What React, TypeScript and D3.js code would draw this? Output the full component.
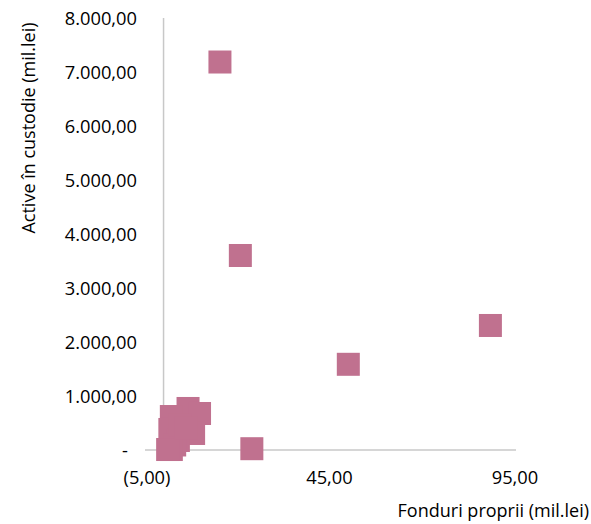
import React from "react";
import * as d3 from "d3";

// Own funds (x) vs assets in custody (y), million lei
const fonduriProprii = [15.2, 20.7, 88.1, 49.8, 23.8, 6.6, 9.7, 2.1, 1.7, 8.1, 4.0, 3.0, 2.1, 1.1, 4.4, 6.0];
const activeCustodie = [7185, 3602, 2306, 1587, 24, 769, 676, 620, 380, 306, 176, 93, 9, 9, 463, 407];

const xTicks = [-5, 45, 95];
const yTicks = [0, 1000, 2000, 3000, 4000, 5000, 6000, 7000, 8000];

const W = 591;
const H = 524;
const FONT = "'Open Sans', sans-serif";
const AXIS = "#C8C8C8";
const MARK = "#C0718F";
const MARK_SIZE = 23;

const fmtNum = (v: number) => {
  const s = d3.format(",.2f")(Math.abs(v));
  // Romanian style: dot for thousands, comma for decimals
  const ro = s.replace(/,/g, "#").replace(".", ",").replace(/#/g, ".");
  return v < 0 ? `(${ro})` : ro;
};

export default function App() {
  const x = d3.scaleLinear().domain([-5, 95]).range([145, 516]);
  const y = d3.scaleLinear().domain([0, 8000]).range([450, 18]);

  const points = fonduriProprii.map((v, i) => ({ fx: v, ay: activeCustodie[i] }));

  return (
    <svg
      width={W}
      height={H}
      style={{ position: "absolute", left: 0, top: 0, background: "#fff" }}
      fontFamily={FONT}
    >
      {/* axes */}
      <line x1={x(0)} x2={x(0)} y1={y(8000)} y2={y(0)} stroke={AXIS} strokeWidth={1.5} />
      <line x1={x(-5)} x2={x(95)} y1={y(0)} y2={y(0)} stroke={AXIS} strokeWidth={1.5} />

      {/* y tick labels */}
      {yTicks.map((t) => (
        <text
          key={t}
          x={t === 0 ? 128 : 137}
          y={y(t)}
          dy="0.36em"
          textAnchor="end"
          fontSize={18.3}
          fill="#000"
        >
          {t === 0 ? "-" : fmtNum(t)}
        </text>
      ))}

      {/* x tick labels */}
      {xTicks.map((t) => (
        <text
          key={t}
          x={x(t) + (t < 0 ? 2 : -1)}
          y={484}
          textAnchor="middle"
          fontSize={18.3}
          fill="#000"
        >
          {fmtNum(t)}
        </text>
      ))}

      {/* markers */}
      {points.map((p, i) => (
        <rect
          key={i}
          x={x(p.fx) - MARK_SIZE / 2}
          y={y(p.ay) - MARK_SIZE / 2}
          width={MARK_SIZE}
          height={MARK_SIZE}
          fill={MARK}
        />
      ))}

      {/* axis titles */}
      <text x={589} y={517} textAnchor="end" fontSize={18} fill="#000">
        Fonduri proprii (mil.lei)
      </text>
      <text
        transform={`translate(35, 128) rotate(-90)`}
        textAnchor="middle"
        fontSize={18}
        fill="#000"
      >
        Active în custodie (mil.lei)
      </text>
    </svg>
  );
}
